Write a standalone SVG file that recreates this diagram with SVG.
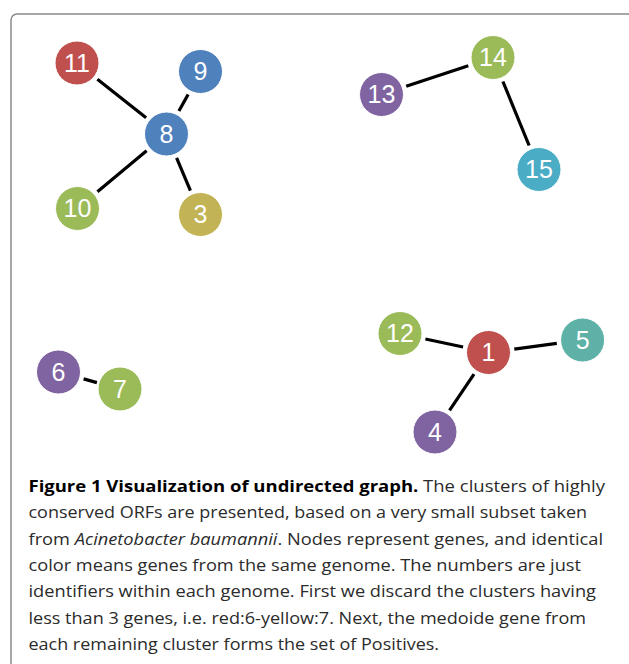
<svg xmlns="http://www.w3.org/2000/svg" width="629" height="664" viewBox="0 0 629 664">
<style>
.n{stroke:#fff;stroke-width:1}
.t{font-family:"Liberation Sans",Arial,sans-serif;font-size:25px;fill:#fff;text-anchor:middle}
.e{stroke:#000;stroke-width:3.2;fill:none}
.c{font-family:"Open Sans","Noto Sans",sans-serif;font-size:16.5px;fill:#2b2b2b}
</style>
<rect x="0" y="0" width="629" height="664" fill="#fff"/>
<rect x="11" y="14" width="640" height="680" rx="6" ry="6" fill="none" stroke="#8a8a8a" stroke-width="1.5"/>
<g id="connectors">
<line class="e" x1="97.4" y1="79.2" x2="146.1" y2="117.8"/>
<line class="e" x1="188.1" y1="94.4" x2="178.9" y2="111.1"/>
<line class="e" x1="97.4" y1="191.8" x2="146.6" y2="150.7"/>
<line class="e" x1="176.6" y1="157.9" x2="190.4" y2="190.6"/>
<line class="e" x1="406.2" y1="86.3" x2="468.3" y2="65.7"/>
<line class="e" x1="502.9" y1="81.5" x2="529.1" y2="145.5"/>
<line class="e" x1="425.4" y1="339" x2="463.1" y2="347"/>
<line class="e" x1="514.3" y1="349.1" x2="556.8" y2="343.4"/>
<line class="e" x1="474" y1="374.1" x2="449.5" y2="410.4"/>
<line class="e" x1="83.6" y1="378.9" x2="96.9" y2="382.6"/>
</g>
<g id="n11"><circle class="n" cx="77" cy="63" r="22" fill="#c0504d"/><text class="t" x="77" y="71.5">11</text></g>
<g id="n9"><circle class="n" cx="200.5" cy="71.5" r="22" fill="#4f81bd"/><text class="t" x="200.5" y="80">9</text></g>
<g id="n8"><circle class="n" cx="166.5" cy="134" r="22" fill="#4f81bd"/><text class="t" x="166.5" y="142.5">8</text></g>
<g id="n10"><circle class="n" cx="77.5" cy="208.5" r="22" fill="#9bbb59"/><text class="t" x="77.5" y="217">10</text></g>
<g id="n3"><circle class="n" cx="200.5" cy="214.5" r="22" fill="#c2b455"/><text class="t" x="200.5" y="223">3</text></g>
<g id="n13"><circle class="n" cx="381.5" cy="94.5" r="22" fill="#8064a2"/><text class="t" x="381.5" y="103">13</text></g>
<g id="n14"><circle class="n" cx="493" cy="57.5" r="22" fill="#9bbb59"/><text class="t" x="493" y="66">14</text></g>
<g id="n15"><circle class="n" cx="539" cy="169.5" r="22" fill="#4bacc6"/><text class="t" x="539" y="178">15</text></g>
<g id="n12"><circle class="n" cx="400" cy="333.5" r="22" fill="#9bbb59"/><text class="t" x="400" y="342">12</text></g>
<g id="n1"><circle class="n" cx="488.5" cy="352.5" r="22" fill="#c0504d"/><text class="t" x="488.5" y="361">1</text></g>
<g id="n5"><circle class="n" cx="582.6" cy="340" r="22" fill="#5eb1a6"/><text class="t" x="582.6" y="348.5">5</text></g>
<g id="n4"><circle class="n" cx="435" cy="432" r="22" fill="#8064a2"/><text class="t" x="435" y="440.5">4</text></g>
<g id="n6"><circle class="n" cx="58.5" cy="372" r="22" fill="#8064a2"/><text class="t" x="58.5" y="380.5">6</text></g>
<g id="n7"><circle class="n" cx="120" cy="389" r="22" fill="#9bbb59"/><text class="t" x="120" y="397.5">7</text></g>
<g id="caption">
<text class="c" x="28.5" y="492" textLength="576.5" lengthAdjust="spacingAndGlyphs"><tspan font-weight="bold" fill="#000">Figure 1 Visualization of undirected graph.</tspan> The clusters of highly</text>
<text class="c" x="28.5" y="518.3" textLength="558.5" lengthAdjust="spacingAndGlyphs">conserved ORFs are presented, based on a very small subset taken</text>
<text class="c" x="28.5" y="544.6" textLength="574.5" lengthAdjust="spacingAndGlyphs">from <tspan font-style="italic">Acinetobacter baumannii</tspan>. Nodes represent genes, and identical</text>
<text class="c" x="28.5" y="570.9" textLength="552.5" lengthAdjust="spacingAndGlyphs">color means genes from the same genome. The numbers are just</text>
<text class="c" x="28.5" y="597.2" textLength="567.5" lengthAdjust="spacingAndGlyphs">identifiers within each genome. First we discard the clusters having</text>
<text class="c" x="28.5" y="623.5" textLength="557.5" lengthAdjust="spacingAndGlyphs">less than 3 genes, i.e. red:6-yellow:7. Next, the medoide gene from</text>
<text class="c" x="28.5" y="649.8" textLength="410.5" lengthAdjust="spacingAndGlyphs">each remaining cluster forms the set of Positives.</text>
</g>
</svg>
